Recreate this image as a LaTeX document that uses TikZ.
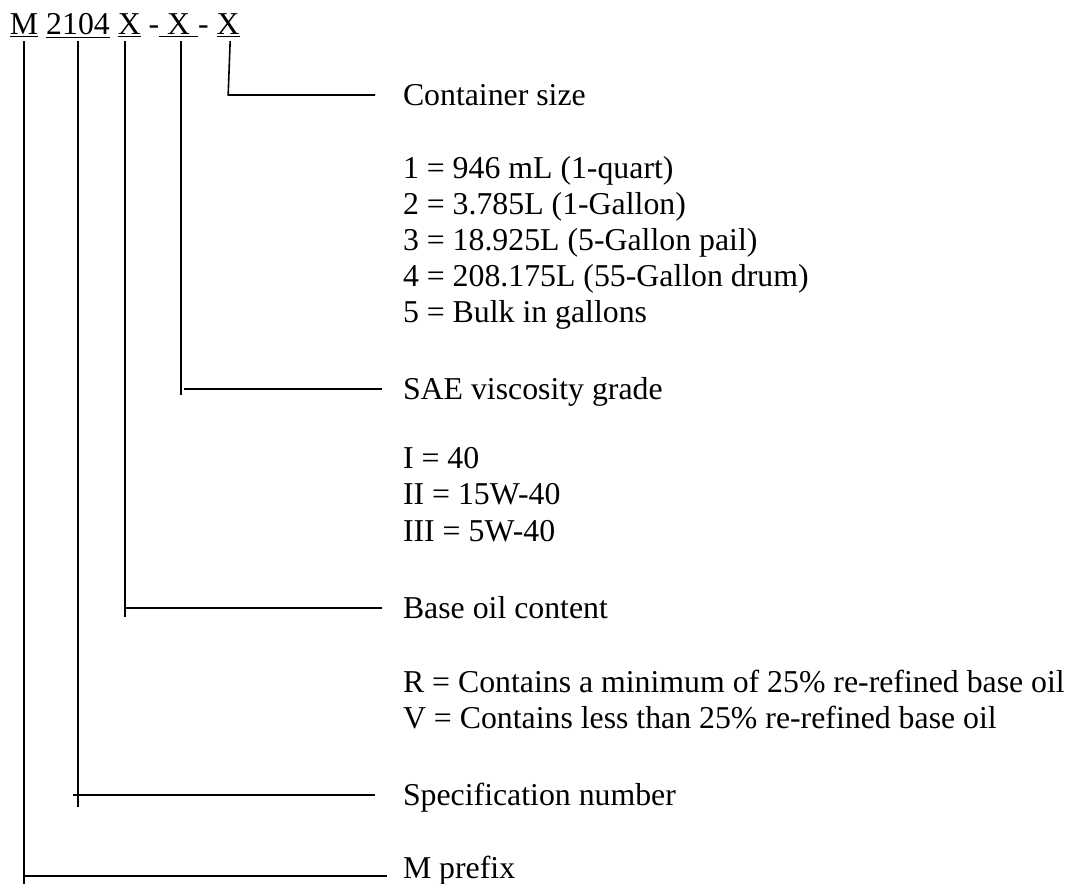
\documentclass[tikz,border=0pt]{standalone}
\usepackage{fontspec}
\setmainfont{Liberation Serif}
\usetikzlibrary{calc}
\begin{document}
\begin{tikzpicture}[x=0.5pt,y=-0.5pt,
  txt/.style={anchor=base west,inner sep=0pt,outer sep=0pt,font=\fontsize{15.9}{18}\selectfont},
  conn/.style={line width=0.8pt}]
\useasboundingbox (0,0) rectangle (1072,884);
% header
\node[txt] (hM) at (10,34) {\underline{M}};
\node[txt] (h2104) at ($(hM.base east)+(7.95,0)$) {\underline{2104}};
\node[txt] (hX1) at ($(h2104.base east)+(7.95,0)$) {\underline{X}};
\node[txt] (hD1) at ($(hX1.base east)+(7.95,0)$) {-};
\node[txt] (hX2) at (hD1.base east) {\underline{\ X\ }};
\node[txt] (hD2) at (hX2.base east) {-};
\node[txt] (hX3) at ($(hD2.base east)+(7.95,0)$) {\underline{X}};
% labels
\node[txt] (tC) at (403,105) {Container size};
\node[txt] (c1) at (403,178) {1 = 946 mL (1-quart)};
\node[txt] (c2) at (403,214) {2 = 3.785L (1-Gallon)};
\node[txt] (c3) at (403,250) {3 = 18.925L (5-Gallon pail)};
\node[txt] (c4) at (403,286) {4 = 208.175L (55-Gallon drum)};
\node[txt] (c5) at (403,322) {5 = Bulk in gallons};
\node[txt] (tS) at (403,399) {SAE viscosity grade};
\node[txt] (s1) at (403,468) {I = 40};
\node[txt] (s2) at (403,504) {II = 15W-40};
\node[txt] (s3) at (403,541) {III = 5W-40};
\node[txt] (tB) at (403,618) {Base oil content};
\node[txt] (b1) at (403,692) {R = Contains a minimum of 25\% re-refined base oil};
\node[txt] (b2) at (403,728) {V = Contains less than 25\% re-refined base oil};
\node[txt] (tN) at (403,805) {Specification number};
\node[txt] (tM) at (403,878) {M prefix};
% connectors
\coordinate (aX3) at ($(hX3.south)+(2,3)$);
\draw[conn] (aX3) -- ($(aX3|-tC.base)+(-2,-10)$) -- ($(tC.base west)+(-28,-10)$);
\coordinate (aX2) at ($(hX2.south)+(2,3)$);
\draw[conn] (aX2) -- ($(aX2|-tS.base)+(0,-4)$);
\draw[conn] ($(aX2|-tS.base)+(3,-10)$) -- ($(tS.base west)+(-21,-10)$);
\coordinate (aX1) at ($(hX1.south)+(-4,3)$);
\draw[conn] (aX1) -- ($(aX1|-tB.base)+(0,-1)$);
\draw[conn] ($(aX1|-tB.base)+(0,-10)$) -- ($(tB.base west)+(-21,-10)$);
\coordinate (a21) at ($(h2104.south)+(0,3)$);
\draw[conn] (a21) -- ($(a21|-tN.base)+(0,2)$);
\draw[conn] ($(a21|-tN.base)+(-5,-10)$) -- ($(tN.base west)+(-28,-10)$);
\coordinate (aM) at ($(hM.south)+(0,3)$);
\draw[conn] (aM) -- ($(aM|-tM.base)+(0,6)$);
\draw[conn] ($(aM|-tM.base)+(0,-2)$) -- ($(tM.base west)+(-16,-2)$);
\end{tikzpicture}
\end{document}
